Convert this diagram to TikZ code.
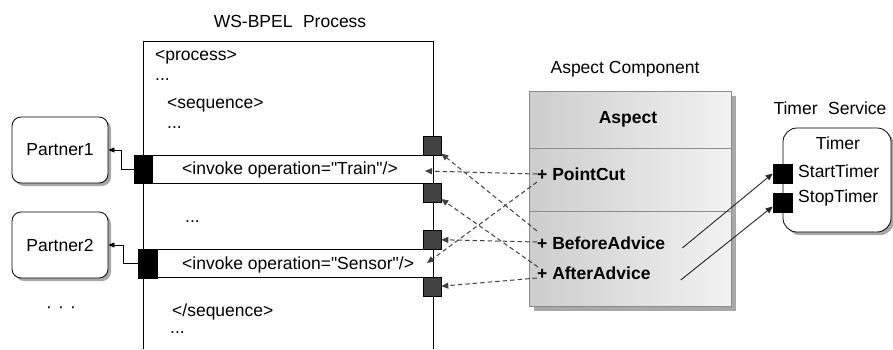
\documentclass[tikz,border=0pt]{standalone}
\usepackage{fontspec}
\setmainfont{Liberation Sans}
\usetikzlibrary{arrows.meta,calc,shadows}

\definecolor{portdark}{HTML}{424242}
\definecolor{shade}{HTML}{A8A8A8}
\definecolor{asleft}{HTML}{CDCDCD}
\definecolor{asright}{HTML}{F2F2F2}
\definecolor{divider}{HTML}{8C8C8C}
\definecolor{dashcol}{HTML}{404040}

\begin{document}
\begin{tikzpicture}[x=1pt,y=-1pt,
  every node/.style={font=\fontsize{17.5}{21}\selectfont, inner sep=0pt},
  lbl/.style={anchor=west},
  partner/.style={draw, line width=0.8pt, rounded corners=9pt, fill=white,
    minimum width=96pt, minimum height=66pt,
    drop shadow={shadow xshift=3pt, shadow yshift=-3pt, fill=shade, opacity=1}},
  invoke/.style={draw, line width=0.8pt, fill=white},
  blackport/.style={draw, fill=black, line width=0.6pt},
  joinpt/.style={draw, fill=portdark, line width=0.6pt, minimum width=18pt, minimum height=19pt},
  dasharrow/.style={dashcol, line width=1pt, dash pattern=on 4.5pt off 3pt,
    -{Triangle[length=7pt,width=6pt]}},
  solidarrow/.style={black!85, line width=0.9pt, -{Triangle[length=7pt,width=6pt]}},
  linkarrow/.style={black, line width=0.8pt, -{Triangle[length=6pt,width=5pt]}}
]
\useasboundingbox (0,0) rectangle (893,349);

% ---------- WS-BPEL process ----------
\node (proctitle) at (290,21) {WS-BPEL\hspace{0.6em}Process};
\draw[line width=0.8pt] (143,349) -- (143,41) -- (433,41) -- (433,349);

\node[lbl] (l1) at (155,57) {<process>};
\node[lbl] (l2) at (155,80) {...};
\node[lbl] (l3) at (167,105) {<sequence>};
\node[lbl] (l4) at (167,128) {...};

\node[invoke, minimum width=281pt, minimum height=28pt] (train) at (292.5,169) {};
\node[lbl] (traintxt) at (182,170) {<invoke operation=\textquotedbl Train\textquotedbl/>};
\node[lbl] (l5) at (185,222) {...};
\node[invoke, minimum width=276pt, minimum height=28pt] (sensor) at (295,263) {};
\node[lbl] (sensortxt) at (182,265) {<invoke operation=\textquotedbl Sensor\textquotedbl/>};
\node[lbl] (l6) at (172,312) {</sequence>};
\node[lbl] (l7) at (170,333) {...};

% ports towards the partners
\node[blackport, minimum width=18pt, minimum height=28pt] (pt1) at (143,169) {};
\node[blackport, minimum width=19pt, minimum height=29pt] (pt2) at (147.5,263.5) {};

% join points on the right border
\node[joinpt] (s1) at (432,146) {};
\node[joinpt] (s2) at (432,192.5) {};
\node[joinpt] (s3) at (432,239.5) {};
\node[joinpt] (s4) at (432,287) {};

% ---------- partners ----------
\node[partner] (partner1) at (60,150) {Partner1};
\node[partner] (partner2) at (60,245) {Partner2};
\node (more) at (61,310) {·\hspace{0.35em}·\hspace{0.35em}·};

\draw[linkarrow] (pt1.west) -- ++(-12,0) |- (partner1.east);
\draw[linkarrow] (pt2.west) -- ++(-14,0) |- (partner2.east);

% ---------- aspect component ----------
\node (astitle) at (625,69) {Aspect Component};
\node[draw=divider, line width=0.8pt, left color=asleft, right color=asright,
  minimum width=202pt, minimum height=215pt,
  drop shadow={shadow xshift=5pt, shadow yshift=-5pt, fill=shade, opacity=1}]
  (aspect) at (630,198.5) {};
\draw[divider, line width=0.8pt] (aspect.west |- 0,148) -- (aspect.east |- 0,148);
\draw[divider, line width=0.8pt] (aspect.west |- 0,211) -- (aspect.east |- 0,211);
\node[font=\fontsize{17.5}{21}\selectfont\bfseries] (asname) at (628,119) {Aspect};
\node[lbl, font=\fontsize{17.5}{21}\selectfont\bfseries] (pc) at (537,174) {+ PointCut};
\node[lbl, font=\fontsize{17.5}{21}\selectfont\bfseries] (ba) at (537,243) {+ BeforeAdvice};
\node[lbl, font=\fontsize{17.5}{21}\selectfont\bfseries] (aa) at (537,273) {+ AfterAdvice};

% ---------- timer service ----------
\node (tmtitle) at (830,108) {Timer\hspace{0.6em}Service};
\node[draw, line width=0.8pt, rounded corners=14pt, fill=white,
  minimum width=108pt, minimum height=104pt,
  drop shadow={shadow xshift=3pt, shadow yshift=-3pt, fill=shade, opacity=1}]
  (timer) at (837,180) {};
\node (tmname) at (838,143) {Timer};
\node[lbl] (start) at (798,171) {StartTimer};
\node[lbl] (stop) at (798,198) {StopTimer};
\node[blackport, minimum width=19pt, minimum height=19pt] (tp1) at (782.5,173.5) {};
\node[blackport, minimum width=19pt, minimum height=19pt] (tp2) at (782.5,202.5) {};

% ---------- weaving links ----------
\coordinate (trainin) at (425,171);
\coordinate (sensorin) at (427,263);
\draw[dasharrow] (pc.west) -- (trainin);
\draw[dasharrow] ($(pc.west)+(0,8)$) -- (sensorin);
\draw[dasharrow] ($(ba.west)+(0,-12)$) -- (s1);
\draw[dasharrow] ($(ba.west)+(0,-1)$) -- (s3);
\draw[dasharrow] ($(aa.west)+(1,-6)$) -- (s2);
\draw[dasharrow] ($(aa.west)+(0,5)$) -- (s4);

\draw[solidarrow] ($(ba.east)+(17,5)$) -- (tp1.west);
\draw[solidarrow] ($(aa.east)+(30,7)$) -- ($(tp2.west)+(0,4)$);
\end{tikzpicture}
\end{document}
